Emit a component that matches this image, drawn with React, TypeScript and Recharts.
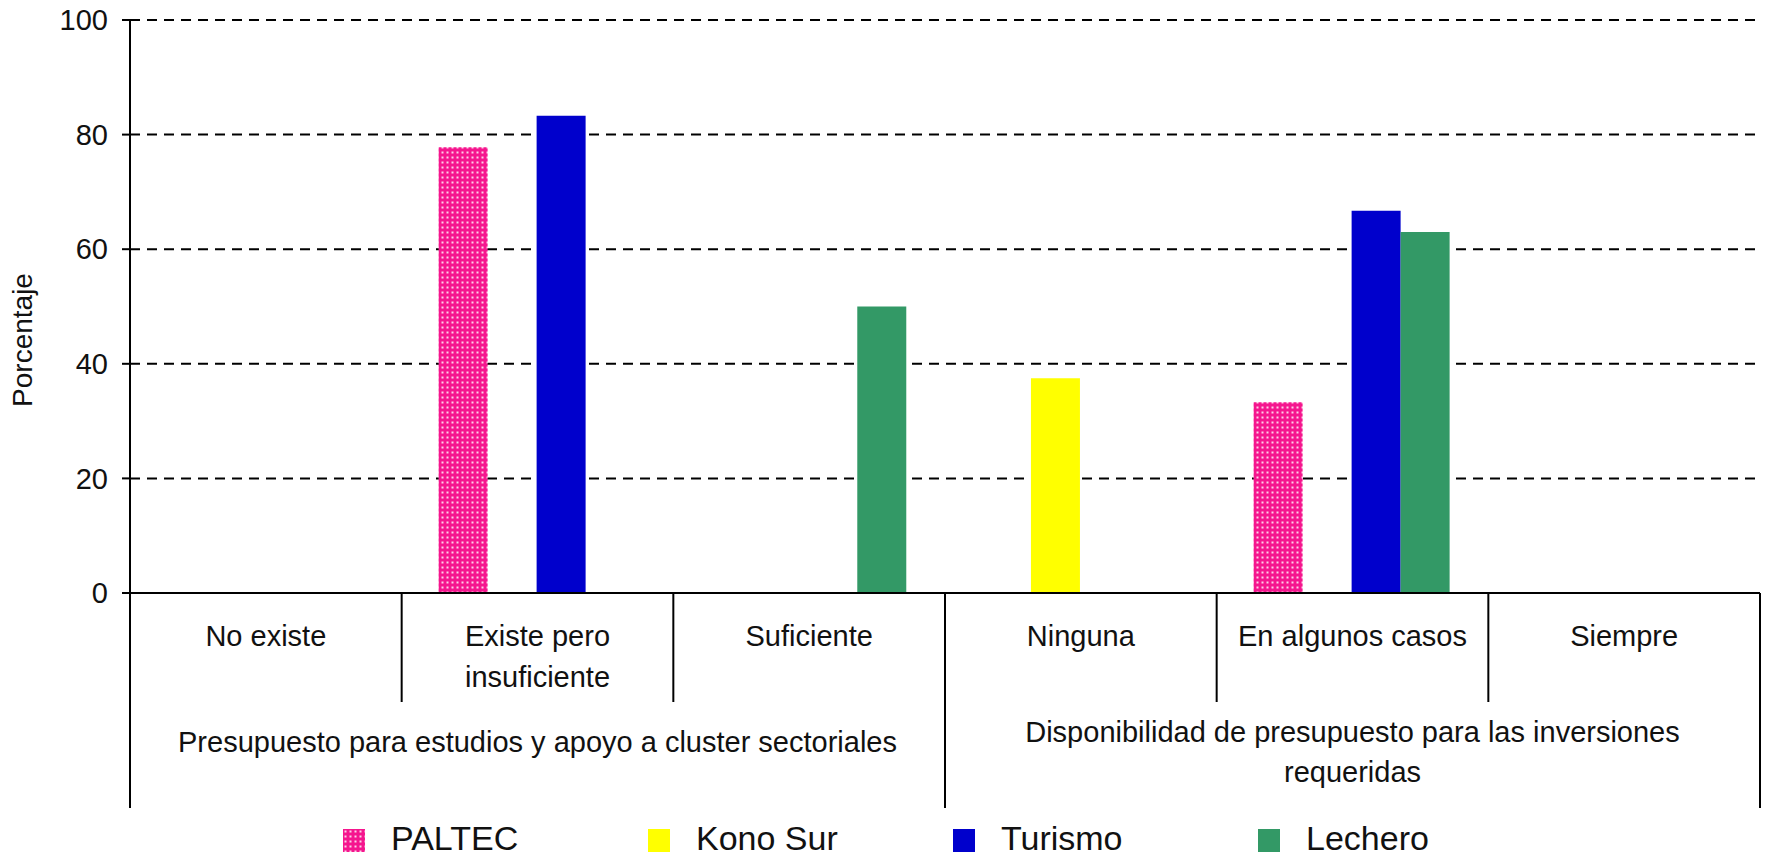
import { Bar, BarChart, CartesianGrid, Legend, XAxis, YAxis } from "recharts";

const FONT = '"Liberation Sans", Arial, sans-serif';
const INK = "#111";

// categories, two levels
const categories = [
  "No existe",
  "Existe pero insuficiente",
  "Suficiente",
  "Ninguna",
  "En algunos casos",
  "Siempre",
];
const categoryLines = [
  ["No existe"],
  ["Existe pero", "insuficiente"],
  ["Suficiente"],
  ["Ninguna"],
  ["En algunos casos"],
  ["Siempre"],
];
const groupLines = [
  ["Presupuesto para estudios y apoyo a cluster sectoriales"],
  ["Disponibilidad de presupuesto para las inversiones", "requeridas"],
];
const groupOfCategory = [0, 0, 0, 1, 1, 1];

// series (percent)
const paltec = [null, 77.8, null, null, 33.3, null];
const konoSur = [null, null, null, 37.5, null, null];
const turismo = [null, 83.3, null, null, 66.7, null];
const lechero = [null, null, 50, null, 63, null];

const seriesNames = ["PALTEC", "Kono Sur", "Turismo", "Lechero"];
const yTicks = [0, 20, 40, 60, 80, 100];

const PINK = "#f5168e";

const data = categories.map((category, i) => ({
  category,
  paltec: paltec[i],
  konoSur: konoSur[i],
  turismo: turismo[i],
  lechero: lechero[i],
}));

function CategoryTick(props: any) {
  const { x, y, payload } = props;
  const i: number = payload.index ?? props.index;
  const half: number = payload.offset ?? 0;
  const g = groupOfCategory[i];
  const isGroupStart = i === 0 || groupOfCategory[i - 1] !== g;
  const isLast = i === categories.length - 1;
  const groupIdx = groupOfCategory
    .map((gg, k) => (gg === g ? k : -1))
    .filter((k) => k >= 0);
  const isGroupMid = groupIdx[Math.floor(groupIdx.length / 2)] === i;
  const gl = groupLines[g];
  const groupBase = gl.length > 1 ? y + 149 : y + 159;

  return (
    <g>
      <line
        x1={x - half}
        x2={x - half}
        y1={y}
        y2={isGroupStart ? y + 215 : y + 109}
        stroke="#000"
        strokeWidth={2}
      />
      {isLast && (
        <line x1={x + half} x2={x + half} y1={y} y2={y + 215} stroke="#000" strokeWidth={2} />
      )}
      {categoryLines[i].map((t, k) => (
        <text
          key={k}
          x={x}
          y={y + 53 + k * 41}
          textAnchor="middle"
          fontSize={29}
          fontFamily={FONT}
          fill={INK}
        >
          {t}
        </text>
      ))}
      {isGroupMid &&
        gl.map((t, k) => (
          <text
            key={"g" + k}
            x={x}
            y={groupBase + k * 40}
            textAnchor="middle"
            fontSize={29}
            fontFamily={FONT}
            fill={INK}
          >
            {t}
          </text>
        ))}
    </g>
  );
}

function AxisTitle(props: any) {
  const vb = props.viewBox || { x: 0, y: 20 };
  const cx = vb.x + 32;
  const cy = vb.y + 320;
  return (
    <text
      x={cx}
      y={cy}
      transform={`rotate(-90 ${cx} ${cy})`}
      textAnchor="middle"
      fontSize={28}
      fontFamily={FONT}
      fill={INK}
    >
      Porcentaje
    </text>
  );
}

function LegendContent(props: any) {
  const items = [...(props.payload || [])].sort(
    (a: any, b: any) => seriesNames.indexOf(a.value) - seriesNames.indexOf(b.value)
  );
  return (
    <div style={{ display: "flex", paddingLeft: 343, height: 44 }}>
      {items.map((entry: any) => (
        <div
          key={entry.value}
          style={{ width: 305, display: "flex", alignItems: "center", height: 44 }}
        >
          <svg width={22} height={23} style={{ marginTop: 4 }}>
            <rect width={22} height={23} fill={entry.color} />
          </svg>
          <span
            style={{
              marginLeft: 26,
              fontSize: 34,
              fontFamily: FONT,
              color: INK,
              lineHeight: "40px",
            }}
          >
            {entry.value}
          </span>
        </div>
      ))}
    </div>
  );
}

export default function App() {
  return (
    <div style={{ position: "absolute", left: 0, top: 0, width: 1766, height: 860, background: "#fff" }}>
      <svg width={0} height={0} style={{ position: "absolute" }}>
        <defs>
          <pattern id="paltecDots" width={5} height={5} patternUnits="userSpaceOnUse">
            <rect width={5} height={5} fill={PINK} />
            <rect x={1.5} y={1.5} width={2} height={2} fill="#fff" opacity={0.8} />
          </pattern>
        </defs>
      </svg>
      <BarChart
        width={1766}
        height={860}
        data={data}
        margin={{ top: 20, right: 6, left: 0, bottom: 0 }}
        barCategoryGap="13.6%"
        barGap={0}
      >
        <CartesianGrid vertical={false} stroke="#000" strokeWidth={2} strokeDasharray="10 7" />
        <XAxis
          dataKey="category"
          height={267}
          interval={0}
          tickLine={false}
          tickSize={0}
          tickMargin={0}
          axisLine={{ stroke: "#000", strokeWidth: 2 }}
          tick={<CategoryTick />}
        />
        <YAxis
          width={130}
          domain={[0, 100]}
          ticks={yTicks}
          tickSize={8}
          tickMargin={14}
          axisLine={{ stroke: "#000", strokeWidth: 2 }}
          tickLine={{ stroke: "#000", strokeWidth: 2 }}
          tick={{ fontSize: 29, fill: INK, fontFamily: FONT }}
          label={<AxisTitle />}
        />
        <Legend
          layout="vertical"
          align="center"
          verticalAlign="middle"
          wrapperStyle={{ left: 0, top: 816, width: 1766, height: 44 }}
          content={<LegendContent />}
        />
        <Bar dataKey="paltec" name="PALTEC" fill="url(#paltecDots)" isAnimationActive={false} />
        <Bar dataKey="konoSur" name="Kono Sur" fill="#ffff00" isAnimationActive={false} />
        <Bar dataKey="turismo" name="Turismo" fill="#0000cc" isAnimationActive={false} />
        <Bar dataKey="lechero" name="Lechero" fill="#339966" isAnimationActive={false} />
      </BarChart>
    </div>
  );
}
